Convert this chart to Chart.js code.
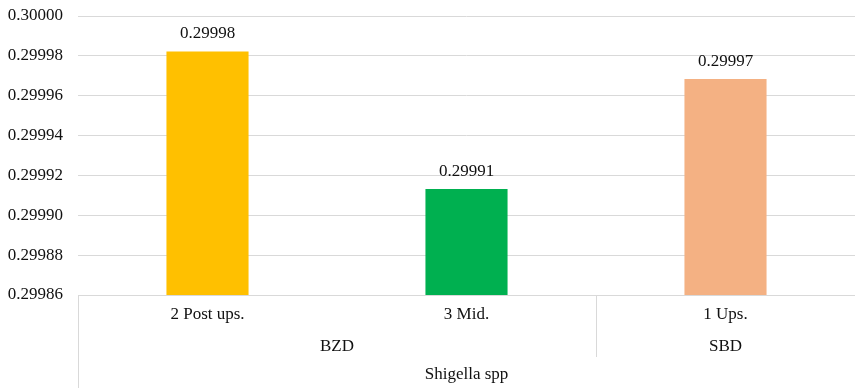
<!DOCTYPE html>
<html>
<head>
<meta charset="utf-8">
<script src="https://cdn.jsdelivr.net/npm/chart.js@4.4.1/dist/chart.umd.min.js"></script>
<style>
  html, body { margin: 0; padding: 0; background: #ffffff; }
  #wrap { width: 855px; height: 388px; }
</style>
</head>
<body>
<div id="wrap"><canvas id="chart" width="855" height="388"></canvas></div>
<script>
// Sampling points, grouped by river section
const categories = ['2 Post ups.', '3 Mid.', '1 Ups.'];
const values = [0.2999822, 0.2999132, 0.2999684];
const barColors = ['#FFC000', '#00B050', '#F4B183'];
const groupLabels = ['BZD', 'SBD'];
const groupSizes = [2, 1];
const outerLabel = 'Shigella spp';
const yTicks = [0.29986, 0.29988, 0.29990, 0.29992, 0.29994, 0.29996, 0.29998, 0.30000];

const FONT = '"Liberation Serif", "Times New Roman", serif';
const TEXT = '#111111';
const LINE = '#d9d9d9';

// Value labels above each bar
const valueLabels = {
  id: 'valueLabels',
  afterDatasetsDraw(chart) {
    const ctx = chart.ctx;
    const meta = chart.getDatasetMeta(0);
    ctx.save();
    ctx.font = '17px ' + FONT;
    ctx.fillStyle = TEXT;
    ctx.textAlign = 'center';
    ctx.textBaseline = 'alphabetic';
    meta.data.forEach((bar, i) => {
      ctx.fillText(values[i].toFixed(5), bar.x, bar.y - 13);
    });
    ctx.restore();
  }
};

// Second and third level of the category axis, with group separators
const groupAxis = {
  id: 'groupAxis',
  afterDraw(chart) {
    const ctx = chart.ctx;
    const x = chart.scales.x;
    const area = chart.chartArea;
    const cell = (x.getPixelForValue(1) - x.getPixelForValue(0));
    const base = area.bottom;
    const groupRowBottom = base + 62;
    ctx.save();
    ctx.strokeStyle = LINE;
    ctx.lineWidth = 1;
    ctx.font = '17px ' + FONT;
    ctx.fillStyle = TEXT;
    ctx.textAlign = 'center';
    ctx.textBaseline = 'middle';

    let start = 0;
    groupLabels.forEach((label, g) => {
      const end = start + groupSizes[g] - 1;
      const left = x.getPixelForValue(start) - cell / 2;
      const right = x.getPixelForValue(end) + cell / 2;
      ctx.fillText(label, (left + right) / 2, base + 52);
      const lx = Math.round(left) + 0.5;
      ctx.beginPath();
      ctx.moveTo(lx, base);
      ctx.lineTo(lx, g === 0 ? chart.height : groupRowBottom);
      ctx.stroke();
      start = end + 1;
    });

    ctx.fillText(outerLabel, (area.left + area.right) / 2, base + 80);
    ctx.restore();
  }
};

new Chart(document.getElementById('chart'), {
  type: 'bar',
  data: {
    labels: categories,
    datasets: [{
      data: values,
      backgroundColor: barColors,
      borderWidth: 0,
      categoryPercentage: 1,
      barPercentage: 0.317
    }]
  },
  options: {
    responsive: false,
    animation: false,
    devicePixelRatio: 1,
    layout: { padding: { top: 16, right: 0, bottom: 0, left: 0 } },
    plugins: {
      legend: { display: false },
      tooltip: { enabled: false }
    },
    scales: {
      x: {
        offset: true,
        grid: { display: false, drawTicks: false },
        border: { display: true, color: LINE, width: 1 },
        ticks: {
          color: TEXT,
          font: { family: FONT, size: 17 },
          padding: 9,
          maxRotation: 0,
          autoSkip: false
        },
        afterFit(scale) {
          scale.height = 93;
          scale.paddingLeft = 0;
          scale.paddingRight = 0;
        }
      },
      y: {
        min: 0.29986,
        max: 0.30000,
        grid: { color: LINE, lineWidth: 1, drawTicks: false },
        border: { display: false },
        afterBuildTicks(scale) {
          scale.ticks = yTicks.map(v => ({ value: v }));
        },
        ticks: {
          color: TEXT,
          font: { family: FONT, size: 17 },
          padding: 15,
          callback: v => Number(v).toFixed(5)
        },
        afterFit(scale) {
          scale.width = 78;
          scale.paddingTop = 0;
          scale.paddingBottom = 0;
        }
      }
    }
  },
  plugins: [valueLabels, groupAxis]
});
</script>
</body>
</html>
